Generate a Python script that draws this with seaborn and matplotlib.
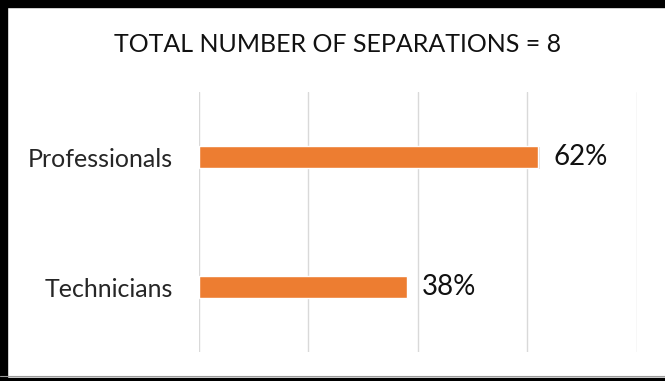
import matplotlib
matplotlib.use("Agg")
import matplotlib.pyplot as plt
import matplotlib.patheffects as pe
import seaborn as sns
import pandas as pd

# Datos del gráfico
categorias = ["Professionals", "Technicians"]
porcentajes = [0.62, 0.38]
etiquetas = ["62%", "38%"]
titulo = "TOTAL NUMBER OF SEPARATIONS = 8"

df = pd.DataFrame({"categoria": categorias, "valor": porcentajes})

sns.set_theme(style="white")
plt.rcParams["font.family"] = ["Lato", "DejaVu Sans"]

fig = plt.figure(figsize=(6.65, 3.81), dpi=100)
ax = fig.add_axes([0.2992, 0.0761, 0.6586, 0.6824])

sns.barplot(data=df, x="valor", y="categoria", orient="h", color="#ED7D31",
            saturation=1, width=0.17, ax=ax)

for barra in ax.patches:
    barra.set_path_effects([pe.SimplePatchShadow(offset=(1, -1), alpha=0.15), pe.Normal()])

ax.set_xlim(0, 0.8)
ax.set_ylim(1.5, -0.5)
ax.set_xticks([0, 0.2, 0.4, 0.6, 0.8])
ax.set_xticklabels([])
ax.tick_params(axis="x", length=0)
ax.tick_params(axis="y", length=0, labelsize=18, pad=19, colors="#262626")
ax.xaxis.grid(True, color="#D9D9D9", linewidth=1)
ax.set_axisbelow(True)
for s in ax.spines.values():
    s.set_visible(False)
ax.set_xlabel("")
ax.set_ylabel("")

for barra, txt in zip(ax.patches, etiquetas):
    ax.annotate(txt, (barra.get_width(), barra.get_y() + barra.get_height() / 2),
                xytext=(11, 0), textcoords="offset points", va="center", ha="left",
                fontsize=20, color="#111111")

fig.text(0.507, 0.882, titulo, ha="center", va="center", fontsize=18, color="#111111")

# Borde del cuadro
fig.add_artist(plt.Rectangle((0, 0.981), 1, 0.019, color="black", transform=fig.transFigure))
fig.add_artist(plt.Rectangle((0, 0), 0.0105, 1, color="black", transform=fig.transFigure))
fig.add_artist(plt.Rectangle((0, 0), 1, 0.008, color="black", transform=fig.transFigure))
fig.add_artist(plt.Line2D([0, 1], [0.012, 0.012], color="#9A9A9A", linewidth=0.8,
                          transform=fig.transFigure))

fig.savefig("out.png", dpi=100)
